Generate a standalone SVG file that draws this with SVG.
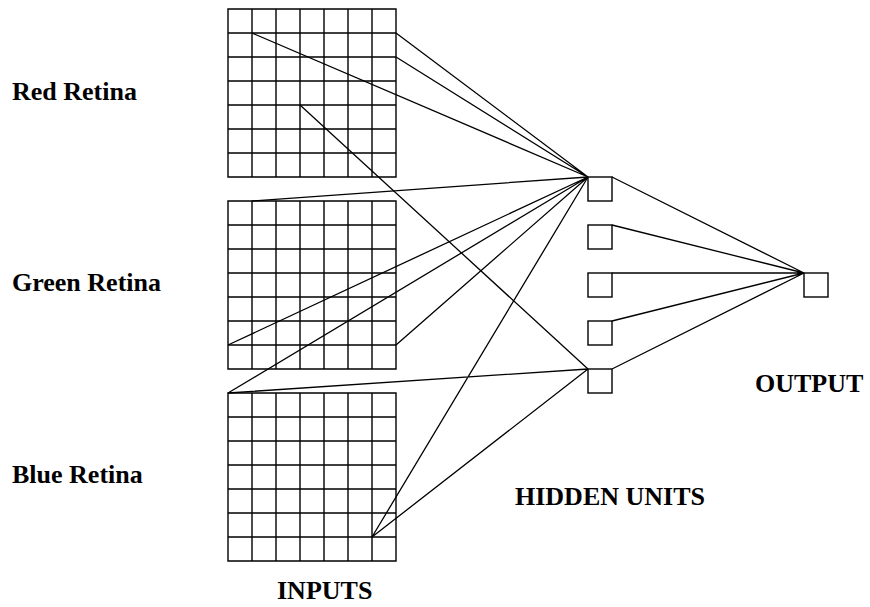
<svg xmlns="http://www.w3.org/2000/svg" width="870" height="607" viewBox="0 0 870 607">
<defs>
<style>
.g{fill:none;stroke:#000;stroke-width:1.4}
.c{stroke:#000;stroke-width:1.3;fill:none}
.u{fill:#fff;stroke:#000;stroke-width:1.4}
text{font-family:"Liberation Serif","Times New Roman",serif;font-weight:bold;font-size:26px;fill:#000}
</style>
</defs>
<rect width="870" height="607" fill="#fff"/>
<g id="red-retina">
<path class="g" d="M228 9H396V177H228Z M228 33H396M228 57H396M228 81H396M228 105H396M228 129H396M228 153H396 M252 9V177M276 9V177M300 9V177M324 9V177M348 9V177M372 9V177"/>
</g>
<g id="green-retina">
<path class="g" d="M228 201H396V369H228Z M228 225H396M228 249H396M228 273H396M228 297H396M228 321H396M228 345H396 M252 201V369M276 201V369M300 201V369M324 201V369M348 201V369M372 201V369"/>
</g>
<g id="blue-retina">
<path class="g" d="M228 393H396V561H228Z M228 417H396M228 441H396M228 465H396M228 489H396M228 513H396M228 537H396 M252 393V561M276 393V561M300 393V561M324 393V561M348 393V561M372 393V561"/>
</g>
<g id="connectors">
<path class="c" d="M396 33L588 177M396 57L588 177M252 33L588 177M300 105L588 369"/>
<path class="c" d="M252 201L588 177M228 345L588 177M396 345L588 177M228 393L588 177"/>
<path class="c" d="M228 393L588 369M372 537L588 177M372 537L588 369"/>
<path class="c" d="M612 177L804 273M612 225L804 273M612 273L804 273M612 321L804 273M612 369L804 273"/>
</g>
<g id="hidden-1"><rect class="u" x="588" y="177" width="24" height="24"/></g>
<g id="hidden-2"><rect class="u" x="588" y="225" width="24" height="24"/></g>
<g id="hidden-3"><rect class="u" x="588" y="273" width="24" height="24"/></g>
<g id="hidden-4"><rect class="u" x="588" y="321" width="24" height="24"/></g>
<g id="hidden-5"><rect class="u" x="588" y="369" width="24" height="24"/></g>
<g id="output-unit"><rect class="u" x="804" y="273" width="24" height="24"/></g>
<g id="labels">
<text x="12" y="100">Red Retina</text>
<text x="12" y="291">Green Retina</text>
<text x="12" y="483">Blue Retina</text>
<text x="755" y="392">OUTPUT</text>
<text x="515" y="505" font-size="25">HIDDEN UNITS</text>
<text x="277" y="599" font-size="25">INPUTS</text>
</g>
</svg>
